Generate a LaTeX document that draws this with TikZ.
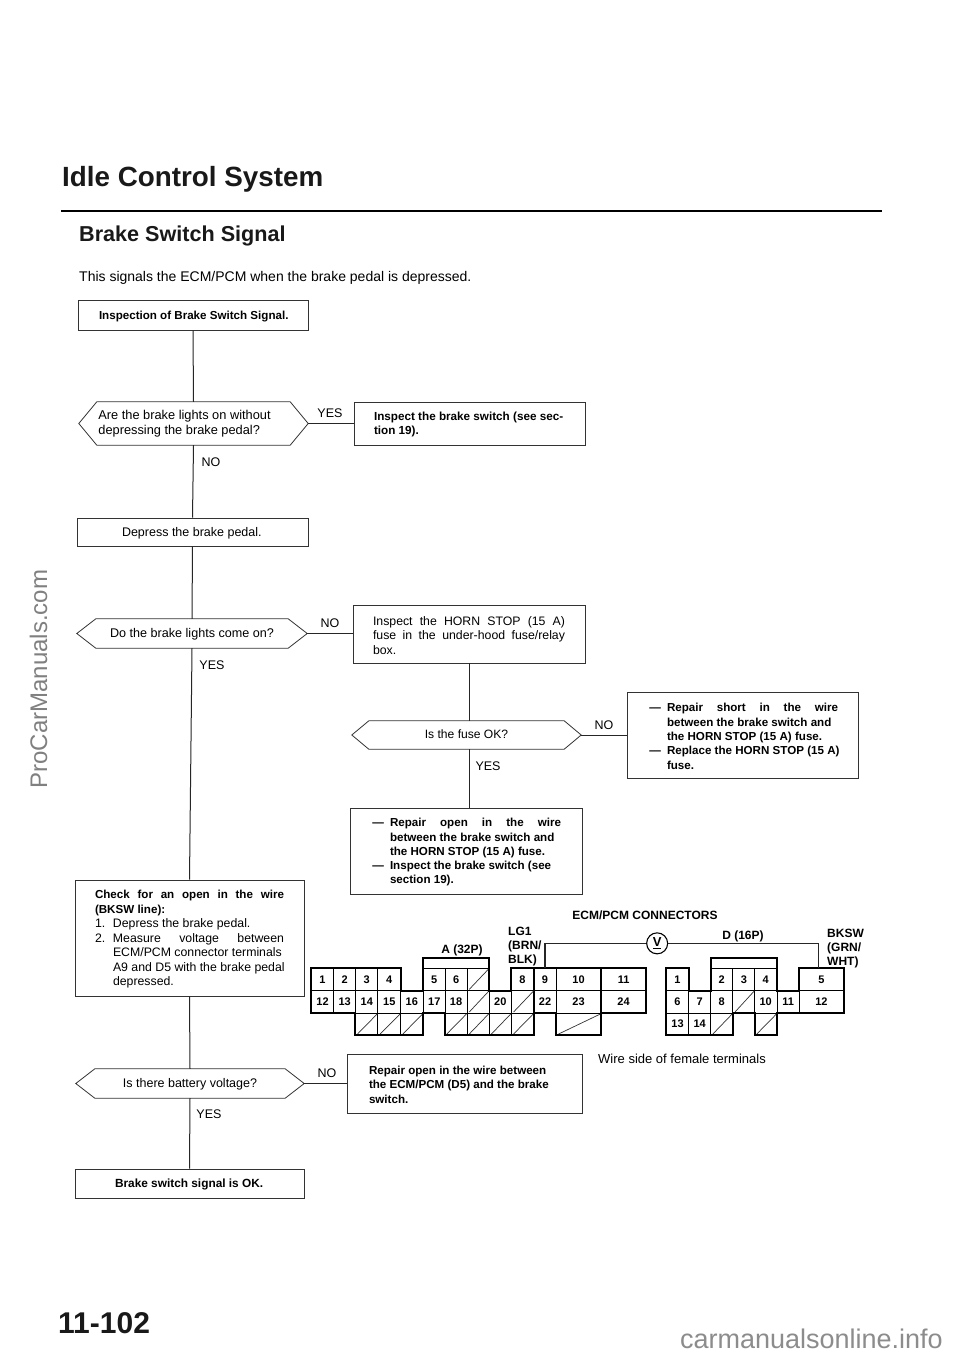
\documentclass[tikz,border=0pt]{standalone}
\usepackage{fontspec}
\setmainfont{Liberation Sans}
\newcommand{\fsz}[2]{\fontsize{#1}{#2}\selectfont}
\newcommand{\jl}[2]{\makebox[#1pt][s]{#2}}
\newcommand{\dashitem}{\leavevmode\llap{---\hspace{6pt}}}
\newcommand{\hl}[3]{\fsz{#1}{14.5}\hspace*{#2pt}\raisebox{-3.8pt}[0pt][0pt]{\begin{tabular}{@{}l@{}}#3\end{tabular}}}
% name, x0, y0, x1, y1, indent, content
\newcommand{\flowbox}[7]{%
  \pgfmathsetmacro{\bw}{#4-#2}\pgfmathsetmacro{\bi}{#4-#2-#6}%
  \node[boxed,minimum width={\bw pt},minimum height={(#5-#3)*1pt}] (#1) at ({(#2+#4)/2},{(#3+#5)/2})
    {\makebox[\bw pt][l]{\hspace*{#6pt}\raisebox{-3.8pt}[0pt][0pt]{\parbox[c]{\bi pt}{\raggedright #7\par}}}};}
% name, x0, x1, y0, y1, chamfer, content
\newcommand{\hexbox}[7]{%
  \pgfmathsetmacro{\bw}{#3-#2}%
  \node[hexlabel,minimum width={\bw pt},minimum height={(#5-#4)*1pt}] (#1) at ({(#2+#3)/2},{(#4+#5)/2}) {#7};
  \draw[boxline] (#1.west) -- ([xshift=#6pt]#1.north west) -- ([xshift=-#6pt]#1.north east) -- (#1.east)
    -- ([xshift=-#6pt]#1.south east) -- ([xshift=#6pt]#1.south west) -- cycle;}
\tikzset{
  boxline/.style={draw=black!80,line width=0.8pt},
  boxed/.style={boxline,rectangle,inner sep=0pt,fill=white},
  hexlabel/.style={rectangle,inner sep=0pt},
  wire/.style={draw=black!85,line width=1pt},
  lab/.style={inner sep=0pt,font=\fsz{12.5}{14}},
  conn/.style={inner sep=0pt,font=\fsz{12}{14}\bfseries},
  num/.style={inner sep=0pt,font=\fsz{11}{12}\bfseries},
  conline/.style={draw=black,line width=1.9pt,line join=miter},
  cell/.style={draw=black,line width=1.2pt},
  hatch/.style={draw=black!80,line width=0.7pt}
}
\begin{document}
\begin{tikzpicture}[x=1pt,y=-1pt]
\useasboundingbox (0,0) rectangle (960,1356);
\fill[white] (0,0) rectangle (960,1356);

% Headings
\node[anchor=base west,inner sep=0pt,font=\fsz{27.8}{30}\bfseries,text=black!90] (title) at (62,187) {Idle Control System};
\coordinate (ruleL) at (61,211.5);
\coordinate (ruleR) at (882,211.5);
\draw[draw=black,line width=2pt] (ruleL) -- (ruleR);
\node[anchor=base west,inner sep=0pt,font=\fsz{21.6}{24}\bfseries,text=black!90] (sub) at (79,241.7) {Brake Switch Signal};
\node[anchor=base west,inner sep=0pt,font=\fsz{14}{16}] (intro) at (79,281.7) {This signals the ECM/PCM when the brake pedal is depressed.};

% Flow boxes
\flowbox{start}{78}{300}{308}{330}{21}{\fsz{11.6}{14}\bfseries Inspection of Brake Switch Signal.}
\hexbox{qa}{79}{308}{402}{445}{18}{\hl{12.8}{-18}{Are the brake lights on without\\depressing the brake pedal?}}
\flowbox{sw}{354}{402}{585}{445}{20}{\fsz{11.7}{14.3}\bfseries Inspect the brake switch (see sec-\\tion 19).}
\flowbox{dep}{77}{518}{308}{546}{45}{\fsz{12.5}{14}Depress the brake pedal.}
\hexbox{qb}{77}{307}{619}{648}{19}{\hl{12.6}{0}{Do the brake lights come on?}}
\flowbox{horn}{353}{605}{585}{663}{20}{\fsz{12.3}{14.6}\jl{192}{Inspect the HORN STOP (15 A)}\\\jl{192}{fuse in the under-hood fuse/relay}\\box.}
\hexbox{qc}{352}{581}{721}{749}{17}{\hl{12.1}{0}{Is the fuse OK?}}
\flowbox{short}{627}{692}{858}{778}{40}{\fsz{11.6}{14.3}\bfseries\dashitem\jl{171}{Repair short in the wire}\\between the brake switch and\\the HORN STOP (15 A) fuse.\\\dashitem Replace the HORN STOP (15 A)\\fuse.}
\flowbox{open}{350}{808}{582}{894}{40}{\fsz{11.6}{14.3}\bfseries\dashitem\jl{171}{Repair open in the wire}\\between the brake switch and\\the HORN STOP (15 A) fuse.\\\dashitem Inspect the brake switch (see\\section 19).}
\flowbox{check}{75}{880}{304}{996}{20}{\fsz{12.3}{14.5}{\fsz{11.6}{14.5}\bfseries\jl{189}{Check for an open in the wire}\\(BKSW line):}\\\makebox[18pt][l]{1.}Depress the brake pedal.\\\makebox[18pt][l]{2.}\jl{171}{Measure voltage between}\\\hspace*{18pt}ECM/PCM connector terminals\\\hspace*{18pt}A9 and D5 with the brake pedal\\\hspace*{18pt}depressed.}
\hexbox{qd}{76}{304}{1069}{1098}{19}{\hl{12.5}{0}{Is there battery voltage?}}
\flowbox{rep}{347}{1054}{582}{1113}{22}{\fsz{11.6}{14.3}\bfseries Repair open in the wire between\\the ECM/PCM (D5) and the brake\\switch.}
\flowbox{ok}{75}{1169}{304}{1198}{40}{\fsz{11.85}{14}\bfseries Brake switch signal is OK.}

% Flow connectors
\draw[wire] (start.south) -- (qa.north);
\draw[wire] (qa.south) -- (dep.north);
\draw[wire] (dep.south) -- (qb.north);
\draw[wire] (qb.south) -- (check.north);
\draw[wire] (check.south) -- (qd.north);
\draw[wire] (qd.south) -- (ok.north);
\draw[wire] (qa.east) -- (sw.west);
\draw[wire] (qb.east) -- (qb.east -| horn.west);
\draw[wire] (qd.east) -- (qd.east -| rep.west);
\draw[wire] (horn.south) -- (qc.north -| horn.south);
\draw[wire] (qc.east) -- (qc.east -| short.west);
\draw[wire] (qc.south -| horn.south) -- (open.north -| horn.south);

% Branch labels
\node[lab] (l1) at (330,413) {YES};
\node[lab] (l2) at (211,462) {NO};
\node[lab] (l3) at (330,623) {NO};
\node[lab] (l4) at (212,665) {YES};
\node[lab] (l5) at (604,725) {NO};
\node[lab] (l6) at (488,766) {YES};
\node[lab] (l7) at (327,1073) {NO};
\node[lab] (l8) at (209,1114) {YES};

% Connector drawing
\begin{scope}[shift={(300,900)},x=0.35714pt,y=-0.33333pt]
  \foreach \xa/\xb/\ya/\yb in {155/155/205/340,218/218/205/406,94/94/205/340,282/282/272/406,345/345/205/406,
      407/407/205/406,468/468/205/406,530/530/272/406,592/592/272/406,655/655/205/406,718/718/205/406,843/843/205/406,
      1088/1088/272/406,1150/1150/205/406,1212/1212/205/406,1273/1273/205/406,1336/1336/272/406,1398/1398/272/340}
    \draw[cell] (\xa,\ya) -- (\xb,\yb);
  \draw[cell] (32,272) -- (970,272);
  \draw[cell] (1025,272) -- (1522,272);
  \draw[cell] (345,205) -- (530,205);
  \draw[cell] (1150,205) -- (1336,205);
  % hatched cells
  \foreach \xa/\xb/\ya/\yb in {468/530/272/205,468/530/340/272,592/655/340/272,1212/1273/340/272,
      155/218/406/340,218/282/406/340,282/345/406/340,405/468/406/340,468/530/406/340,530/592/406/340,592/655/406/340,
      718/843/406/340,1150/1212/406/340,1273/1336/406/340}
    \draw[hatch] (\xa+6,\ya-4) -- (\xb-2,\yb+2);
  % outlines
  \draw[conline] (32,205) -- (282,205) -- (282,272) -- (345,272) -- (345,175) -- (530,175) -- (530,272) -- (592,272)
    -- (592,205) -- (970,205) -- (970,340) -- (843,340) -- (843,406) -- (718,406) -- (718,340) -- (655,340) -- (655,406)
    -- (405,406) -- (405,340) -- (345,340) -- (345,406) -- (155,406) -- (155,340) -- (32,340) -- cycle;
  \draw[conline] (1025,205) -- (1088,205) -- (1088,272) -- (1150,272) -- (1150,175) -- (1336,175) -- (1336,272) -- (1398,272)
    -- (1398,205) -- (1522,205) -- (1522,340) -- (1336,340) -- (1336,406) -- (1273,406) -- (1273,340) -- (1212,340)
    -- (1212,406) -- (1025,406) -- cycle;
  \draw[cell] (32,340) -- (970,340);
  \draw[cell] (1025,340) -- (1522,340);
  % terminal numbers
  \foreach \n/\px/\py in {1/63/238,2/125/238,3/187/238,4/250/238,5/376/238,6/437/238,8/623/238,9/686/238,10/780/238,11/906/238,
      12/63/305,13/125/305,14/187/305,15/250/305,16/313/305,17/376/305,18/437/305,20/561/305,22/686/305,23/780/305,24/906/305}
    \node[num] (a\n) at (\px,\py) {\n};
  \foreach \n/\px/\py in {1/1057/238,2/1181/238,3/1243/238,4/1304/238,5/1460/238,6/1057/305,7/1119/305,8/1181/305,10/1304/305,11/1367/305,12/1460/305,13/1057/372,14/1119/372}
    \node[num] (d\n) at (\px,\py) {\n};
  % voltmeter wire
  \node[draw=black,line width=1.1pt,circle,inner sep=0pt,minimum size=21pt,fill=white,font=\fsz{13}{14}\bfseries] (vm) at (1000,130) {\underline{V}};
  \coordinate (pinA) at (686,205);
  \coordinate (pinD) at (1452,205);
  \draw[wire,line width=1.1pt] (pinA) |- (vm.west);
  \draw[wire,line width=1.1pt] (vm.east) -| (pinD);
\end{scope}

% Connector labels
\node[conn] (ecm) at (645,915) {ECM/PCM CONNECTORS};
\node[conn] (a32) at (462,950) {A (32P)};
\node[conn] (d16) at (743,936) {D (16P)};
\node[conn,anchor=north west,align=left] (lg) at (508,927) {LG1\\(BRN/\\BLK)};
\node[conn,anchor=north west,align=left] (bk) at (827,929) {BKSW\\(GRN/\\WHT)};
\node[lab,anchor=west,font=\fsz{13}{14}] (wside) at (598,1059) {Wire side of female terminals};

% Page number and watermarks
\node[anchor=base west,inner sep=0pt,font=\fsz{30}{32}\bfseries,text=black!90] (page) at (58,1333) {11-102};
\node[rotate=90,anchor=base,inner sep=0pt,font=\fsz{24}{26},text=black!50] (wm) at (47,679) {ProCarManuals.com};
\node[anchor=base east,inner sep=0pt,font=\fsz{27}{29},text=black!45] (wm2) at (943,1348) {carmanualsonline.info};
\end{tikzpicture}
\end{document}
